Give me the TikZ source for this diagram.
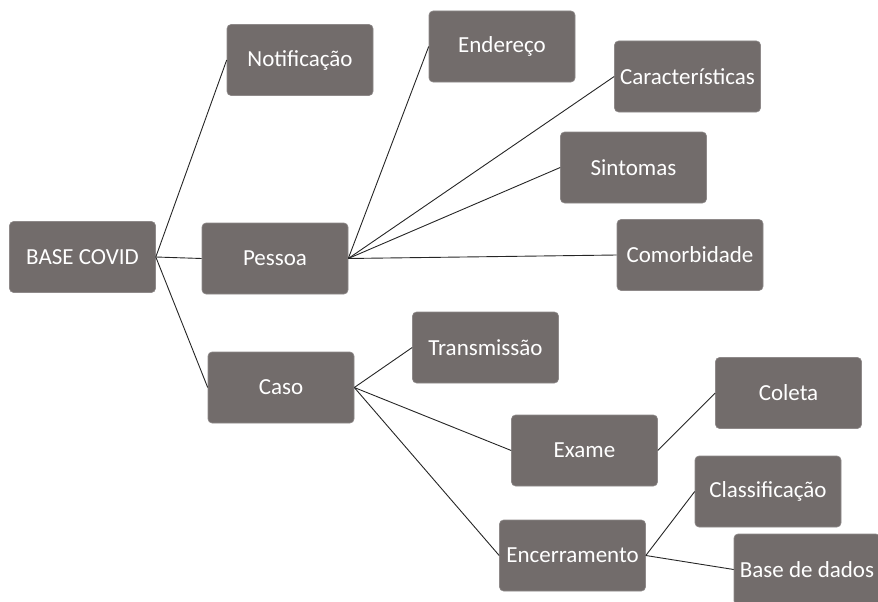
\documentclass[tikz,border=0pt]{standalone}
\usepackage{fontspec}
\setmainfont{Carlito}
\definecolor{boxgray}{RGB}{114,108,107}
\begin{document}
\begin{tikzpicture}[x=1pt,y=-1pt,
  box/.style={draw=boxgray!80!white,line width=0.6pt,fill=boxgray,rounded corners=4pt,
    minimum width=146pt,minimum height=71pt,inner sep=0pt,text=white,
    font=\fontsize{23}{27}\selectfont},
  link/.style={draw=black!85,line width=0.9pt}]
\useasboundingbox (0,0) rectangle (878,602);
\clip (0,0) rectangle (878,602);
\node[box] (base) at (82.5,257) {BASE COVID};
\node[box] (notif) at (300,60) {Notificação};
\node[box] (pessoa) at (275,258.5) {Pessoa};
\node[box] (caso) at (281,387.5) {Caso};
\node[box] (ender) at (502,46.5) {Endereço};
\node[box] (carac) at (687.5,76.5) {Características};
\node[box] (sint) at (633.5,167.5) {Sintomas};
\node[box] (comor) at (690,255) {Comorbidade};
\node[box] (trans) at (485.5,347.5) {Transmissão};
\node[box] (exame) at (584.5,450.5) {Exame};
\node[box] (coleta) at (788.5,393) {Coleta};
\node[box] (classif) at (768,491.5) {Classificação};
\node[box] (encerr) at (572.5,555.5) {Encerramento};
\node[box] (based) at (807,569.5) {Base de dados};
\draw[link] (base.east) -- (notif.west);
\draw[link] (base.east) -- (pessoa.west);
\draw[link] (base.east) -- (caso.west);
\draw[link] (pessoa.east) -- (ender.west);
\draw[link] (pessoa.east) -- (carac.west);
\draw[link] (pessoa.east) -- (sint.west);
\draw[link] (pessoa.east) -- (comor.west);
\draw[link] (caso.east) -- (trans.west);
\draw[link] (caso.east) -- (exame.west);
\draw[link] (caso.east) -- (encerr.west);
\draw[link] (exame.east) -- (coleta.west);
\draw[link] (encerr.east) -- (classif.west);
\draw[link] (encerr.east) -- (based.west);
\end{tikzpicture}
\end{document}
